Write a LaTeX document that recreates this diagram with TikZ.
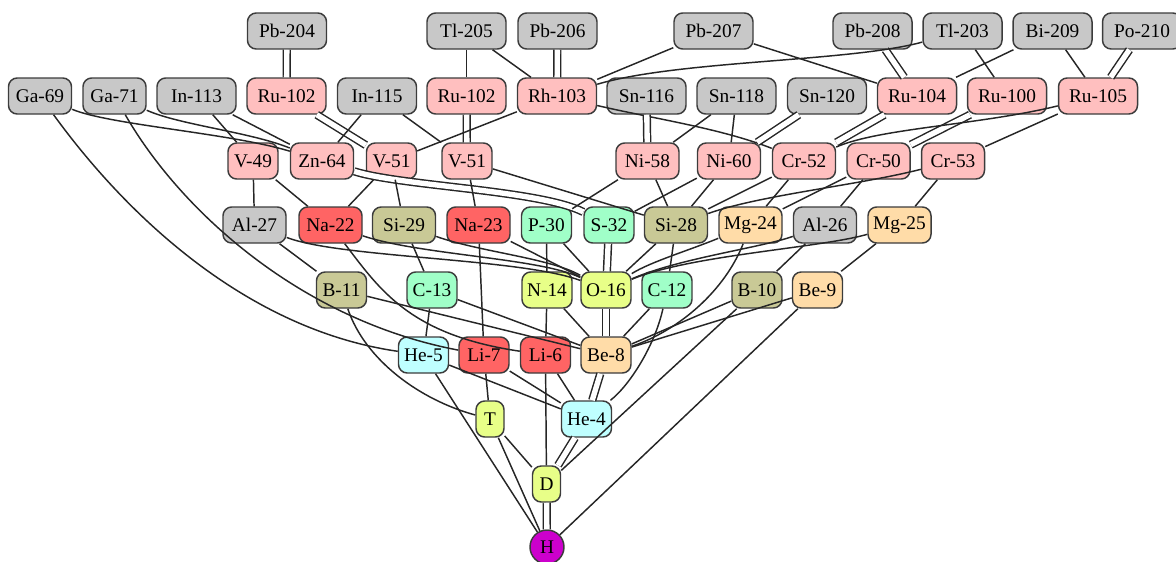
\documentclass[tikz,border=0pt]{standalone}
\usepackage{fontspec}
\setmainfont{Liberation Serif}
\definecolor{bord}{HTML}{3C3C3C}
\definecolor{cgray}{HTML}{C8C8C8}
\definecolor{cpink}{HTML}{FFBFBF}
\definecolor{cred}{HTML}{FF6464}
\definecolor{colive}{HTML}{C9C996}
\definecolor{cmint}{HTML}{A0FFC8}
\definecolor{cyell}{HTML}{E8FF88}
\definecolor{cpeach}{HTML}{FFDCA8}
\definecolor{ccyan}{HTML}{BFFFFF}
\definecolor{cmag}{HTML}{CC00CC}
\begin{document}
\begin{tikzpicture}[x=0.75pt,y=-0.75pt,
  nd/.style={draw=bord,line width=1.1pt,rounded corners=6.5pt,minimum height=27pt,inner sep=0pt,font=\fontsize{14.5}{17}\selectfont},
  wa/.style={nd,minimum width=59.25pt},
  wb/.style={nd,minimum width=47.25pt},
  wc/.style={nd,minimum width=37.5pt},
  wd/.style={nd,minimum width=21pt},
  gr/.style={fill=cgray}, pk/.style={fill=cpink}, rd/.style={fill=cred},
  ol/.style={fill=colive}, mt/.style={fill=cmint}, yl/.style={fill=cyell},
  pc/.style={fill=cpeach}, cy/.style={fill=ccyan},
  ed/.style={draw=black!85,line width=1.1pt},
  dbl/.style={ed,double=white,double distance=4pt}]
\useasboundingbox (0,0) rectangle (1176,561);
% row 0
\node[wa,gr] (pb204) at (287,31) {Pb-204};
\node[wa,gr] (tl205) at (466.5,31) {Tl-205};
\node[wa,gr] (pb206) at (557.5,31) {Pb-206};
\node[wa,gr] (pb207) at (713.5,31) {Pb-207};
\node[wa,gr] (pb208) at (872.5,31) {Pb-208};
\node[wa,gr] (tl203) at (962.5,31) {Tl-203};
\node[wa,gr] (bi209) at (1052.5,31) {Bi-209};
\node[wa,gr] (po210) at (1142,31) {Po-210};
% row 1
\node[wb,gr] (ga69) at (40,96) {Ga-69};
\node[wb,gr] (ga71) at (114.5,96) {Ga-71};
\node[wa,gr] (in113) at (196.5,96) {In-113};
\node[wa,pk] (ru102a) at (286.5,96) {Ru-102};
\node[wa,gr] (in115) at (377,96) {In-115};
\node[wa,pk] (ru102b) at (466.5,96) {Ru-102};
\node[wa,pk] (rh103) at (557,96) {Rh-103};
\node[wa,gr] (sn116) at (646.5,96) {Sn-116};
\node[wa,gr] (sn118) at (736.5,96) {Sn-118};
\node[wa,gr] (sn120) at (827,96) {Sn-120};
\node[wa,pk] (ru104) at (917,96) {Ru-104};
\node[wa,pk] (ru100) at (1007,96) {Ru-100};
\node[wa,pk] (ru105) at (1098,96) {Ru-105};
% row 2
\node[wc,pk] (v49) at (253,161) {V-49};
\node[wb,pk] (zn64) at (322,161) {Zn-64};
\node[wc,pk] (v51a) at (391.5,161) {V-51};
\node[wc,pk] (v51b) at (467,161) {V-51};
\node[wb,pk] (ni58) at (647.5,161) {Ni-58};
\node[wb,pk] (ni60) at (729,161) {Ni-60};
\node[wb,pk] (cr52) at (804,161) {Cr-52};
\node[wb,pk] (cr50) at (878.5,161) {Cr-50};
\node[wb,pk] (cr53) at (953,161) {Cr-53};
% row 3
\node[wb,gr] (al27) at (254.5,225) {Al-27};
\node[wb,rd] (na22) at (330.5,225) {Na-22};
\node[wb,ol] (si29) at (404,225) {Si-29};
\node[wb,rd] (na23) at (478.5,225) {Na-23};
\node[wc,mt] (p30) at (546.5,225) {P-30};
\node[wc,mt] (s32) at (609,225) {S-32};
\node[wb,ol] (si28) at (676,225) {Si-28};
\node[wb,pc] (mg24) at (750.5,225) {Mg-24};
\node[wb,gr] (al26) at (825,225) {Al-26};
\node[wb,pc] (mg25) at (899.5,225) {Mg-25};
% row 4
\node[wc,ol] (b11) at (341.5,290) {B-11};
\node[wc,mt] (c13) at (432,290) {C-13};
\node[wc,yl] (n14) at (547,290) {N-14};
\node[wc,yl] (o16) at (606,290) {O-16};
\node[wc,mt] (c12) at (667,290) {C-12};
\node[wc,ol] (b10) at (757,290) {B-10};
\node[wc,pc] (be9) at (817.5,290) {Be-9};
% row 5
\node[wc,cy] (he5) at (423.5,355) {He-5};
\node[wc,rd] (li7) at (484,355) {Li-7};
\node[wc,rd] (li6) at (545.5,355) {Li-6};
\node[wc,pc] (be8) at (606,355) {Be-8};
% rows 6-8
\node[wd,yl] (t) at (490,419) {T};
\node[wc,cy] (he4) at (586.5,419) {He-4};
\node[wd,yl] (d) at (546.5,484) {D};
\node[circle,draw=bord,line width=1.1pt,fill=cmag,minimum size=25.5pt,inner sep=0pt,font=\fontsize{14.5}{17}\selectfont] (h) at (547,547) {H};
% edges row 0
\draw[dbl] (pb204) -- (ru102a);
\draw[ed] (tl205) -- (ru102b);
\draw[ed] (tl205) -- (rh103);
\draw[dbl] (pb206) -- (rh103);
\draw[ed] (pb207) -- (rh103);
\draw[ed] (pb207) -- (ru104);
\draw[dbl] (pb208) -- (ru104);
\draw[ed] (tl203) .. controls (850,62) and (680,60) .. (rh103);
\draw[ed] (tl203) -- (ru100);
\draw[ed] (bi209) -- (ru104);
\draw[ed] (bi209) -- (ru105);
\draw[dbl] (po210) -- (ru105);
% edges row 1
\draw[ed] (ga69) .. controls (110,125) and (230,133) .. (zn64);
\draw[ed] (ga71) .. controls (180,125) and (250,132) .. (zn64);
\draw[ed] (ga69) .. controls (130,220) and (250,330) .. (he5);
\draw[ed] (ga71) .. controls (180,210) and (300,320) .. (li7);
\draw[ed] (in113) -- (v49);
\draw[ed] (in113) -- (zn64);
\draw[dbl] (ru102a) -- (v51a);
\draw[ed] (in115) -- (zn64);
\draw[ed] (in115) -- (v51b);
\draw[dbl] (ru102b) -- (v51b);
\draw[ed] (rh103) -- (v51a);
\draw[ed] (rh103) .. controls (650,118) and (720,128) .. (cr52);
\draw[dbl] (sn116) -- (ni58);
\draw[ed] (sn118) -- (ni58);
\draw[ed] (sn118) -- (ni60);
\draw[dbl] (sn120) -- (ni60);
\draw[dbl] (ru104) -- (cr52);
\draw[dbl] (ru100) -- (cr50);
\draw[ed] (ru105) .. controls (980,125) and (880,128) .. (cr52);
\draw[ed] (ru105) -- (cr53);
% edges row 2
\draw[ed] (v49) -- (al27);
\draw[ed] (v49) -- (na22);
\draw[dbl] (zn64) .. controls (400,186) and (540,190) .. (s32);
\draw[ed] (v51a) -- (na22);
\draw[ed] (v51a) -- (si29);
\draw[ed] (v51b) -- (na23);
\draw[ed] (v51b) -- (si28);
\draw[ed] (ni58) -- (p30);
\draw[ed] (ni58) -- (si28);
\draw[ed] (ni60) -- (s32);
\draw[ed] (ni60) -- (si28);
\draw[ed] (cr52) -- (si28);
\draw[ed] (cr52) -- (mg24);
\draw[ed] (cr50) -- (mg24);
\draw[ed] (cr50) -- (al26);
\draw[ed] (cr53) .. controls (860,185) and (760,195) .. (si28);
\draw[ed] (cr53) -- (mg25);
% edges row 3
\draw[ed] (al27) -- (b11);
\draw[ed] (al27) .. controls (340,258) and (520,258) .. (o16);
\draw[ed] (na22) .. controls (420,255) and (540,258) .. (o16);
\draw[ed] (na22) .. controls (380,290) and (410,335) .. (li6);
\draw[ed] (si29) -- (c13);
\draw[ed] (si29) .. controls (480,252) and (550,258) .. (o16);
\draw[ed] (na23) -- (li7);
\draw[ed] (na23) -- (o16);
\draw[ed] (p30) -- (n14);
\draw[ed] (p30) -- (o16);
\draw[dbl] (s32) -- (o16);
\draw[ed] (si28) -- (o16);
\draw[ed] (si28) -- (c12);
\draw[ed] (mg24) .. controls (690,250) and (650,262) .. (o16);
\draw[ed] (mg24) .. controls (725,290) and (680,330) .. (be8);
\draw[ed] (al26) .. controls (760,248) and (680,258) .. (o16);
\draw[ed] (al26) -- (b10);
\draw[ed] (mg25) .. controls (820,248) and (690,255) .. (o16);
\draw[ed] (mg25) -- (be9);
% edges row 4
\draw[ed] (b11) .. controls (365,360) and (420,400) .. (t);
\draw[ed] (b11) -- (be8);
\draw[ed] (c13) -- (he5);
\draw[ed] (c13) -- (be8);
\draw[ed] (n14) -- (li6);
\draw[ed] (n14) -- (be8);
\draw[dbl] (o16) -- (be8);
\draw[ed] (c12) -- (be8);
\draw[ed] (c12) .. controls (655,345) and (630,385) .. (he4);
\draw[ed] (b10) -- (be8);
\draw[ed] (b10) -- (d);
\draw[ed] (be9) -- (be8);
\draw[ed] (be9) -- (h);
% edges row 5-7
\draw[ed] (he5) -- (he4);
\draw[ed] (he5) -- (h);
\draw[ed] (li7) -- (t);
\draw[ed] (li7) -- (he4);
\draw[ed] (li6) -- (d);
\draw[ed] (li6) -- (he4);
\draw[dbl] (be8) -- (he4);
\draw[ed] (t) -- (d);
\draw[ed] (t) -- (h);
\draw[dbl] (he4) -- (d);
\draw[dbl] (d) -- (h);
\end{tikzpicture}
\end{document}
